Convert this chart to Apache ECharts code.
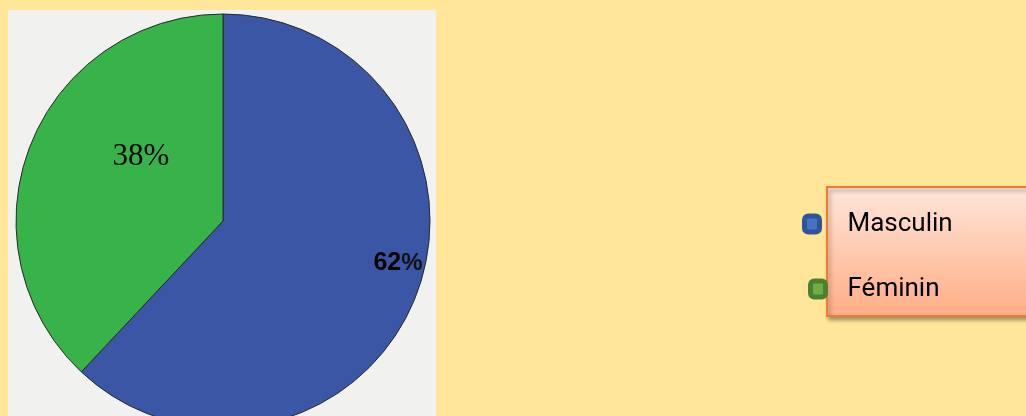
<!DOCTYPE html>
<html>
<head>
<meta charset="utf-8">
<script src="https://cdn.jsdelivr.net/npm/echarts@6/dist/echarts.min.js"></script>
<style>
html,body{margin:0;padding:0;background:#FFE699;}
#c{width:1026px;height:416px;}
</style>
</head>
<body>
<div id="c"></div>
<script>
var categories = ['Masculin', 'Féminin'];
var values = [62, 38];
var sliceColors = ['#3C56A6', '#37B34A'];
var markerColors = [['#4472C4', '#2F5597'], ['#70AD47', '#4E7F30']];

var chart = echarts.init(document.getElementById('c'));

var pieData = categories.map(function (name, i) {
  var d = { name: name, value: values[i], itemStyle: { color: sliceColors[i] } };
  if (i === 0) {
    d.label = {
      formatter: function (p) { return '{b|' + p.value + '}{p|%}'; },
      padding: [6, 0, 0, 152],
      rich: {
        b: { fontFamily: 'Liberation Sans', fontWeight: 'bold', fontSize: 25, color: '#000' },
        p: { fontFamily: 'Liberation Sans', fontWeight: 'bold', fontSize: 24, color: '#111' }
      }
    };
  } else {
    d.label = {
      formatter: function (p) { return '{a|' + p.value + '%}\n{s| }'; },
      padding: [0, 0, 0, 34],
      rich: {
        a: { fontFamily: 'Liberation Serif', fontSize: 31, color: '#000', lineHeight: 36 },
        s: { fontSize: 10, lineHeight: 50 }
      }
    };
  }
  return d;
});

function makeLegend(i, left, top, padLeft, padBottom) {
  return {
    data: [categories[i]],
    left: left, top: top, padding: 0,
    orient: 'vertical',
    icon: 'roundRect',
    itemWidth: 15, itemHeight: 16,
    itemStyle: { color: markerColors[i][0], borderColor: markerColors[i][1], borderWidth: 5 },
    selectedMode: false,
    textStyle: {
      fontFamily: 'Roboto', fontSize: 26, color: '#000', lineHeight: 30,
      padding: [0, 0, padBottom, padLeft]
    },
    z: 10
  };
}

chart.setOption({
  backgroundColor: '#FFE699',
  animation: false,
  graphic: [
    { type: 'rect', z: -10, shape: { x: 8, y: 10, width: 428, height: 420 },
      style: { fill: '#F1F1EF' } },
    { type: 'rect', z: 1, shape: { x: 827, y: 187, width: 220, height: 129 },
      style: {
        fill: new echarts.graphic.LinearGradient(0, 0, 0, 1, [
          { offset: 0, color: '#FFE6DB' }, { offset: 1, color: '#FFAD84' }
        ]),
        stroke: '#ED7D31', lineWidth: 2,
        shadowBlur: 4, shadowOffsetX: 2, shadowOffsetY: 3, shadowColor: 'rgba(0,0,0,0.35)'
      } }
  ],
  legend: [
    makeLegend(0, 802, 201, 23, 16),
    makeLegend(1, 808, 269, 17, 10)
  ],
  series: [{
    type: 'pie',
    center: [223, 221],
    radius: 207,
    startAngle: 90,
    clockwise: true,
    data: pieData,
    itemStyle: { borderColor: '#2a2a2a', borderWidth: 1 },
    label: { show: true, position: 'inside' },
    labelLine: { show: false },
    emphasis: { disabled: true }
  }]
});
</script>
</body>
</html>
